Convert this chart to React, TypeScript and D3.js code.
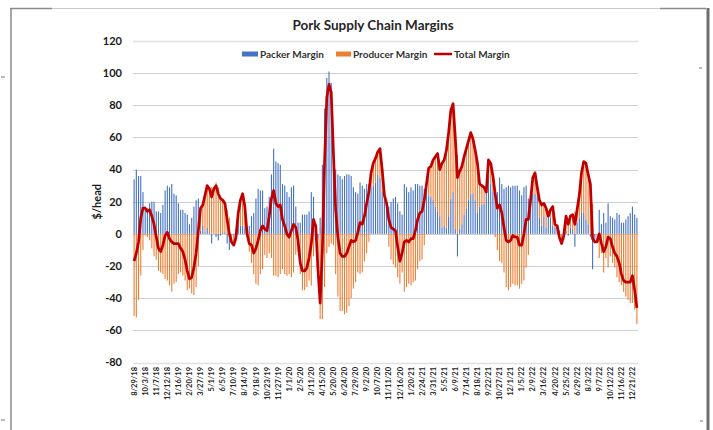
import React from 'react';
import * as d3 from 'd3';

// weekly categories, a label every 5th week
const tickLabels = [
  '8/29/18', '10/3/18', '11/7/18', '12/12/18', '1/16/19', '2/20/19', '3/27/19', '5/1/19',
  '6/5/19', '7/10/19', '8/14/19', '9/18/19', '10/23/19', '11/27/19', '1/1/20', '2/5/20',
  '3/11/20', '4/15/20', '5/20/20', '6/24/20', '7/29/20', '9/2/20', '10/7/20', '11/11/20',
  '12/16/20', '1/20/21', '2/24/21', '3/31/21', '5/5/21', '6/9/21', '7/14/21', '8/18/21',
  '9/22/21', '10/27/21', '12/1/21', '1/5/22', '2/9/22', '3/16/22', '4/20/22', '5/25/22',
  '6/29/22', '8/3/22', '9/7/22', '10/12/22', '11/16/22', '12/21/22',
];

const packer = [
  34, 40, 36, 36, 26, 17, 16, 19, 20, 20, 14, 14, 13, 18, 27, 30, 29, 31, 25, 24,
  19, 15, 15, 13, 12, 6, 10, 17, 21, 22, 2, 5, 1, 4, 1, -6, 0, -2, -4, -1,
  1, 1, -6, -10, 0, -1, 3, 6, 5, 5, 4, 0, 5, 11, 13, 22, 28, 27, 27, 16,
  17, 23, 37, 53, 45, 44, 43, 31, 30, 26, 23, 29, 30, 17, 7, 7, 12, 12, 12, 14,
  26, 23, 2, -3, 10, 43, 78, 97, 101, 94, 57, 40, 37, 36, 34, 36, 37, 37, 36, 29,
  26, 25, 32, 30, 28, 31, 31, 29, 30, 32, 37, 35, 26, 21, 19, 17, 20, 22, 23, 19,
  14, 12, 31, 29, 26, 29, 27, 31, 31, 30, 30, 28, 26, 24, 23, 21, 17, 14, 11, 4,
  5, 4, 11, 22, 26, 3, -14, 3, 6, 12, 16, 21, 25, 25, 21, 13, 17, 18, 19, 25,
  36, 31, 26, 27, 26, 35, 31, 28, 29, 30, 29, 30, 30, 30, 27, 24, 29, 30, 22, 21,
  25, 25, 23, 10, 5, 11, 4, 11, 10, 5, 4, 4, 2, 0, 3, 2, -1, 4, 3, -8,
  7, 10, 13, 13, 9, 6, -2, -22, -4, 0, 15, 6, 13, 7, 19, 11, 10, 9, 13, 12,
  7, 7, 9, 11, 13, 17, 12, 10,
];

const producer = [
  -51, -52, -41, -26, -10, -1, -2, -4, -9, -14, -16, -23, -24, -25, -28, -29, -32, -36, -31, -30,
  -25, -24, -26, -29, -35, -34, -37, -38, -33, -20, 14, 13, 23, 26, 27, 29, 28, 32, 29, 23,
  20, 18, 15, 10, -5, -6, -5, 7, 16, 20, 13, 0, -11, -18, -25, -31, -32, -25, -22, -13,
  -15, -12, -15, -26, -26, -27, -25, -22, -25, -26, -25, -27, -24, -13, -11, -25, -35, -35, -33, -29,
  -32, -14, 3, -19, -53, -53, -33, -12, -8, -6, -7, -25, -39, -48, -48, -50, -49, -45, -40, -34,
  -30, -24, -25, -24, -17, -12, -5, 9, 14, 15, 14, 18, 14, 3, 0, -8, -16, -19, -21, -27,
  -31, -24, -36, -33, -31, -32, -30, -29, -22, -17, -16, -7, 5, 17, 19, 25, 31, 36, 29, 40,
  41, 48, 52, 55, 55, 57, 49, 36, 36, 36, 37, 37, 38, 34, 31, 31, 14, 12, 10, 1,
  10, 13, 10, -2, -10, -17, -18, -24, -33, -35, -33, -31, -32, -32, -34, -31, -29, -21, -13, 0,
  10, 13, 6, 11, 13, 8, 12, 0, 5, 12, 2, 1, -4, -6, -4, 9, 7, 7, 9, 14,
  8, 14, 25, 32, 35, 31, 33, 19, -1, -5, -15, -12, -24, -15, -21, -14, -18, -21, -27, -30,
  -32, -36, -39, -41, -43, -43, -47, -56,
];

const total = [
  -17, -12, -5, 10, 16, 16, 14, 15, 11, 6, -2, -9, -11, -7, -1, 1, -3, -5, -6, -6,
  -6, -9, -11, -16, -23, -28, -27, -21, -12, 2, 16, 18, 24, 30, 28, 23, 28, 30, 25, 22,
  21, 19, 9, 0, -5, -7, -2, 13, 21, 25, 17, 0, -6, -7, -12, -9, -4, 2, 5, 3,
  2, 11, 22, 27, 19, 17, 18, 9, 5, 0, -2, 2, 6, 4, -4, -18, -23, -23, -21, -15,
  -6, 9, 5, -22, -43, -10, 45, 85, 93, 88, 50, 15, -2, -12, -14, -14, -12, -8, -4, -5,
  -4, 1, 7, 6, 11, 19, 26, 38, 44, 47, 51, 53, 40, 24, 19, 9, 4, 3, 2, -8,
  -17, -12, -5, -4, -5, -3, -3, 2, 9, 13, 14, 21, 31, 41, 42, 46, 48, 50, 40, 44,
  46, 52, 63, 77, 81, 60, 35, 39, 42, 48, 53, 58, 63, 59, 52, 44, 31, 30, 29, 26,
  46, 44, 36, 25, 16, 18, 13, 4, -4, -5, -4, -1, -2, -2, -7, -7, 0, 9, 9, 21,
  35, 38, 29, 21, 18, 19, 16, 11, 15, 17, 6, 5, -2, -6, -1, 11, 6, 11, 12, 6,
  15, 24, 38, 45, 44, 37, 31, -3, -5, -5, 0, -6, -11, -8, -2, -3, -8, -12, -14, -18,
  -25, -29, -30, -30, -30, -26, -35, -46,
];

const yTicks = [-80, -60, -40, -20, 0, 20, 40, 60, 80, 100, 120];

const FONT = "Lato, 'Open Sans', Arial, sans-serif";
const BLUE = '#4472C4';
const ORANGE = '#ED7D31';
const RED = '#C00000';

export default function App() {
  const idx = d3.range(total.length);
  const x = d3.scaleBand<number>().domain(idx).range([133, 638]);
  const y = d3.scaleLinear().domain([-80, 120]).range([362.5, 41]);
  const cx = (i: number) => (x(i) as number) + x.bandwidth() / 2;

  const rows = idx.map(i => ({ packer: packer[i], producer: producer[i] }));
  const series = d3.stack<any>()
    .keys(['packer', 'producer'])
    .offset(d3.stackOffsetDiverging)(rows);

  const line = d3.line<number>()
    .x((_, i) => cx(i))
    .y(d => y(d));

  const barW = 1.1;

  return (
    <div style={{ position: 'absolute', left: 0, top: 0, width: 713, height: 430, background: '#fff' }}>
      <svg width={713} height={430} style={{ display: 'block' }}>
        {/* frame of the embedded chart */}
        <line x1={10} x2={706} y1={8.5} y2={8.5} stroke="#c8c8c8" strokeWidth={1} />
        <line x1={10} x2={52} y1={8.5} y2={8.5} stroke="#8a8a8a" strokeWidth={1.5} />
        <line x1={660} x2={706} y1={8.5} y2={8.5} stroke="#8a8a8a" strokeWidth={1.5} />
        <line x1={11} x2={11} y1={8} y2={430} stroke="#8a8a8a" strokeWidth={1.5} />
        <line x1={708} x2={708} y1={8} y2={430} stroke="#6e6e6e" strokeWidth={3} />
        <line x1={1} x2={5} y1={77} y2={77} stroke="#777" strokeWidth={1} />
        <line x1={1} x2={5} y1={420} y2={420} stroke="#777" strokeWidth={1} />
        <line x1={699} x2={702} y1={68} y2={68} stroke="#777" strokeWidth={1} />
        <line x1={700} x2={703} y1={421} y2={421} stroke="#777" strokeWidth={1} />

        <text x={373} y={30} textAnchor="middle" fontFamily={FONT} fontWeight="bold" fontSize={13.5} fill="#262626">
          Pork Supply Chain Margins
        </text>

        {/* gridlines */}
        {yTicks.map(t => (
          <line key={t} x1={133} x2={638} y1={Math.round(y(t)) + 0.5} y2={Math.round(y(t)) + 0.5}
            stroke={t === -80 || t === 120 ? '#e0e0e0' : '#cfcfcf'} strokeWidth={t === -80 || t === 120 ? 1.6 : 1} />
        ))}
        {yTicks.map(t => (
          <text key={'l' + t} x={122} y={y(t)} dy="0.35em" textAnchor="end" fontFamily={FONT}
            fontWeight="bold" fontSize={11} fill="#1a1a1a">{t}</text>
        ))}
        <text transform={`translate(97,${y(20)}) rotate(-90)`} textAnchor="middle" dy="0.35em"
          fontFamily={FONT} fontWeight="bold" fontSize={11} fill="#1a1a1a">$/head</text>

        {/* stacked columns */}
        {series.map((s, k) => (
          <g key={s.key} fill={k === 0 ? BLUE : ORANGE}>
            {s.map((d, i) => (
              <rect key={i} x={cx(i) - barW / 2} width={barW}
                y={y(Math.max(d[0], d[1]))} height={Math.abs(y(d[0]) - y(d[1]))} />
            ))}
          </g>
        ))}

        <path d={line(total) || ''} fill="none" stroke={RED} strokeWidth={2.75} strokeLinejoin="round" />

        {/* category labels */}
        {tickLabels.map((lab, k) => (
          <text key={lab} transform={`translate(${cx(k * 5)},367) rotate(-90)`} textAnchor="end" dy="0.35em"
            fontFamily={FONT} fontWeight="bold" fontSize={7.5} fill="#262626">{lab}</text>
        ))}

        {/* legend */}
        <rect x={242} y={51.5} width={16} height={5} fill={BLUE} />
        <text x={260} y={54} dy="0.35em" fontFamily={FONT} fontWeight="bold" fontSize={10} fill="#333">Packer Margin</text>
        <rect x={336} y={51.5} width={15} height={5} fill={ORANGE} />
        <text x={353} y={54} dy="0.35em" fontFamily={FONT} fontWeight="bold" fontSize={10} fill="#333">Producer Margin</text>
        <line x1={434} x2={452} y1={54} y2={54} stroke={RED} strokeWidth={2.5} />
        <text x={454} y={54} dy="0.35em" fontFamily={FONT} fontWeight="bold" fontSize={10} fill="#333">Total Margin</text>
      </svg>
    </div>
  );
}
